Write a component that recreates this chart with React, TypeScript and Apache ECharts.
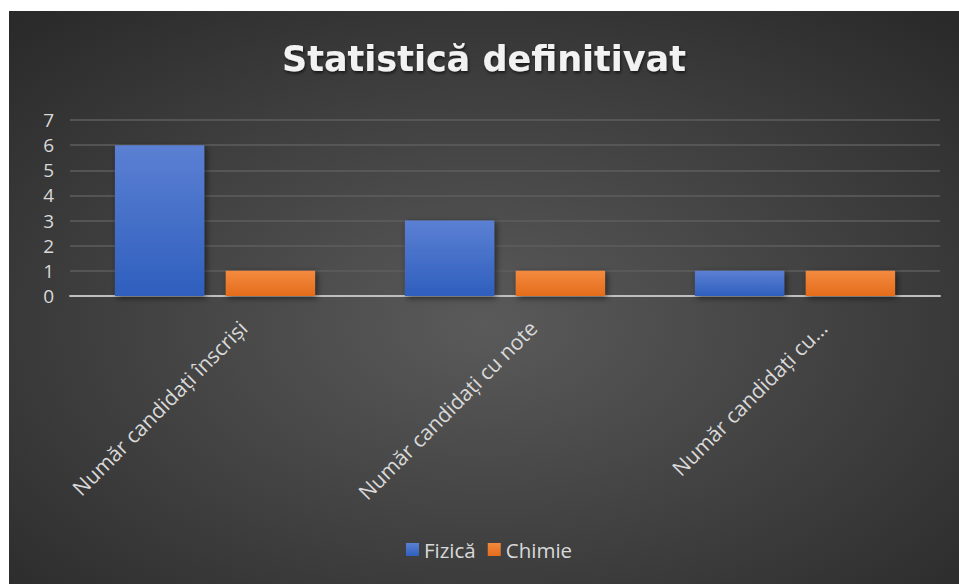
import React, { useEffect, useRef } from "react";
import * as echarts from "echarts";

const categories = ["Număr candidați înscriși", "Număr candidați cu note", "Număr candidați cu..."];
const fizica = [6, 3, 1];
const chimie = [1, 1, 1];
const yTicks = { min: 0, max: 7, interval: 1 };
const titleText = "Statistică definitivat";
const seriesNames = ["Fizică", "Chimie"];

const W = 950;
const H = 573;

export default function App() {
  const ref = useRef<HTMLDivElement>(null);
  useEffect(() => {
    if (!ref.current) return;
    const chart = echarts.init(ref.current, undefined, { renderer: "svg" });
    const font = "'Open Sans', 'Noto Sans', sans-serif";
    const barShadow = {
      shadowBlur: 6,
      shadowColor: "rgba(0,0,0,0.55)",
      shadowOffsetX: 2,
      shadowOffsetY: 2,
    };
    chart.setOption({
      animation: false,
      graphic: [
        {
          type: "rect",
          z: -100,
          silent: true,
          shape: { x: 0, y: 0, width: W, height: H },
          style: {
            fill: {
              type: "radial",
              x: 0.5,
              y: 0.55,
              r: 0.72,
              colorStops: [
                { offset: 0, color: "#5a5a5a" },
                { offset: 1, color: "#2a2a2a" },
              ],
            },
          },
        },
      ],
      title: {
        text: titleText,
        left: "center",
        top: 25,
        textStyle: {
          color: "#f2f2f2",
          fontFamily: "'DejaVu Sans', sans-serif",
          fontWeight: "bold",
          fontSize: 35,
          textShadowColor: "rgba(0,0,0,0.6)",
          textShadowBlur: 3,
          textShadowOffsetX: 1,
          textShadowOffsetY: 2,
        },
      },
      legend: {
        left: 392,
        top: 523,
        itemWidth: 13,
        itemHeight: 13,
        itemGap: 12,
        icon: "rect",
        textStyle: { color: "#d9d9d9", fontFamily: font, fontSize: 20.5, padding: [0, 0, 0, 0] },
        data: seriesNames,
      },
      grid: { left: 61, right: 19, top: 109, bottom: 288, containLabel: false },
      xAxis: {
        type: "category",
        data: categories,
        axisLine: { show: true, lineStyle: { color: "#bfbfbf", width: 2 } },
        axisTick: { show: false },
        axisLabel: {
          interval: 0,
          rotate: 45,
          color: "#d9d9d9",
          fontFamily: font,
          fontSize: 21,
          verticalAlign: "top",
          lineHeight: 24,
          padding: [28, 0, 0, 0],
          margin: 0,
        },
      },
      yAxis: {
        type: "value",
        min: yTicks.min,
        max: yTicks.max,
        interval: yTicks.interval,
        axisLine: { show: false },
        axisTick: { show: false },
        splitLine: { lineStyle: { color: "#5e5e5e", width: 1.5 } },
        axisLabel: { color: "#d9d9d9", fontFamily: font, fontSize: 19, margin: 16 },
      },
      series: [
        {
          name: seriesNames[0],
          type: "bar",
          data: fizica,
          barGap: "24%",
          barCategoryGap: "31%",
          itemStyle: {
            color: {
              type: "linear", x: 0, y: 0, x2: 0, y2: 1,
              colorStops: [
                { offset: 0, color: "#5b80d3" },
                { offset: 1, color: "#2f5fbe" },
              ],
            },
            ...barShadow,
          },
        },
        {
          name: seriesNames[1],
          type: "bar",
          data: chimie,
          barGap: "24%",
          barCategoryGap: "31%",
          itemStyle: {
            color: {
              type: "linear", x: 0, y: 0, x2: 0, y2: 1,
              colorStops: [
                { offset: 0, color: "#f38a3e" },
                { offset: 1, color: "#e46c1c" },
              ],
            },
            ...barShadow,
          },
        },
      ],
    });
    return () => chart.dispose();
  }, []);
  return (
    <div style={{ position: "absolute", left: 0, top: 0, width: 959, height: 584, background: "#ffffff" }}>
      <div ref={ref} style={{ position: "absolute", left: 9, top: 11, width: W, height: H }} />
    </div>
  );
}
